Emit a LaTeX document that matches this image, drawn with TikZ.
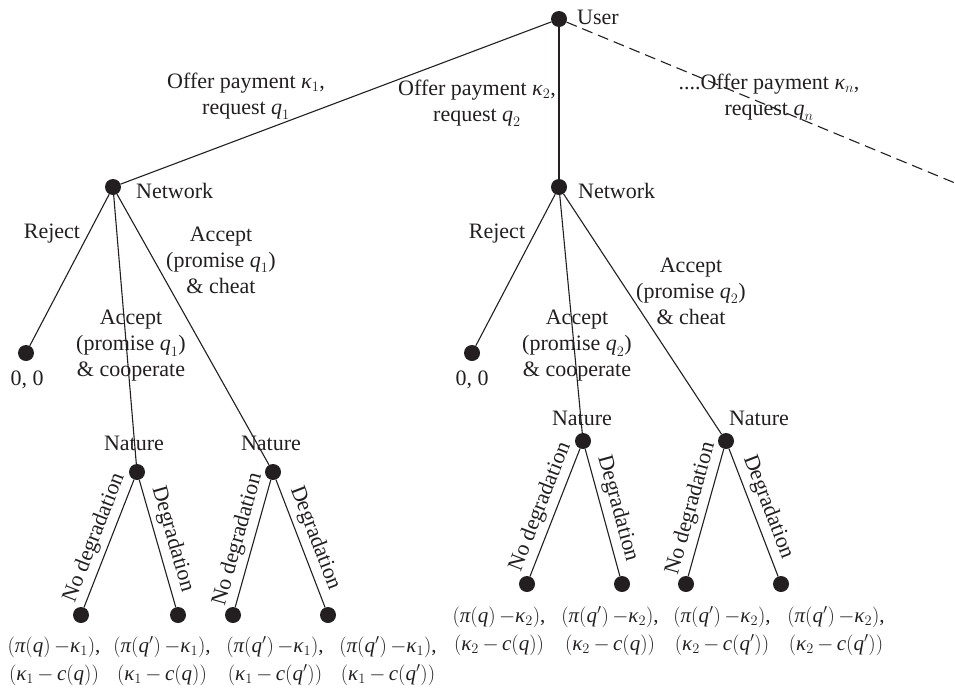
\documentclass[tikz,border=0pt]{standalone}
\usepackage{amsmath}
\usepackage{fontspec}
\setmainfont{Liberation Serif}
\definecolor{ink}{RGB}{35,31,32}
\newcommand{\myk}{\text{\itshape κ}}
\newcommand{\myq}{\text{\itshape q}}
\newcommand{\mypi}{\text{\itshape π}}
\newcommand{\myc}{\text{\itshape c}}
\begin{document}
\begin{tikzpicture}[x=1pt,y=-1pt,
  dot/.style={circle,fill=ink,inner sep=0pt,minimum size=16pt},
  lbl/.style={font=\fontsize{22}{26}\selectfont, text=ink, inner sep=0pt},
  blk/.style={lbl,align=center},
  pay/.style={font=\fontsize{21}{28}\selectfont, text=ink, inner sep=0pt, align=center},
  edge/.style={draw=ink,line width=1.1pt},
  elbl/.style={lbl,sloped,above,inner sep=5pt}
]
\useasboundingbox (0,0) rectangle (955,691);

% decision / chance / terminal points
\node[dot] (user) at (559,19) {};
\node[dot] (net1) at (113,187) {};
\node[dot] (net2) at (559,187) {};
\node[dot] (zeroA) at (26,353) {};
\node[dot] (zeroB) at (472,353) {};
\node[dot] (nat1) at (137,472) {};
\node[dot] (nat2) at (273,472) {};
\node[dot] (nat3) at (583,441) {};
\node[dot] (nat4) at (726,441) {};
\node[dot] (L1) at (81,615) {};
\node[dot] (L2) at (178,615) {};
\node[dot] (L3) at (233,615) {};
\node[dot] (L4) at (328,615) {};
\node[dot] (R1) at (527,584) {};
\node[dot] (R2) at (622,584) {};
\node[dot] (R3) at (686,584) {};
\node[dot] (R4) at (781,584) {};
\coordinate (dashend) at (955,183);

% connectors
\draw[edge] (user) -- (net1);
\draw[edge] (user) -- (net2);
\draw[edge,dash pattern=on 11pt off 6pt] (user) -- (dashend);
\draw[edge] (net1) -- (zeroA);
\draw[edge] (net1) -- (nat1);
\draw[edge] (net1) -- (nat2);
\draw[edge] (net2) -- (zeroB);
\draw[edge] (net2) -- (nat3);
\draw[edge] (net2) -- (nat4);
\draw[edge] (nat1) -- node[elbl] (nd1) {No degradation} (L1);
\draw[edge] (nat1) -- node[elbl] (dg1) {Degradation} (L2);
\draw[edge] (nat2) -- node[elbl] (nd2) {No degradation} (L3);
\draw[edge] (nat2) -- node[elbl] (dg2) {Degradation} (L4);
\draw[edge] (nat3) -- node[elbl] (nd3) {No degradation} (R1);
\draw[edge] (nat3) -- node[elbl] (dg3) {Degradation} (R2);
\draw[edge] (nat4) -- node[elbl] (nd4) {No degradation} (R3);
\draw[edge] (nat4) -- node[elbl] (dg4) {Degradation} (R4);

% player labels
\node[lbl,anchor=west] (userl) at (577,17) {User};
\node[lbl,anchor=west] (net1l) at (136,191) {Network};
\node[lbl,anchor=west] (net2l) at (578,191) {Network};
\node[lbl] (nat1l) at (134,443) {Nature};
\node[lbl] (nat2l) at (271,443) {Nature};
\node[lbl] (nat3l) at (582,418) {Nature};
\node[lbl] (nat4l) at (759,418) {Nature};

% action labels
\node[blk] (off1) at (246,96) {Offer payment $\myk_1$,\\request $\myq_1$};
\node[blk] (off2) at (477,103) {Offer payment $\myk_2$,\\request $\myq_2$};
\node[blk] (offn) at (769,97) {....Offer payment $\myk_n$,\\request $\myq_n$};
\node[lbl] (rej1) at (52,234) {Reject};
\node[lbl] (rej2) at (497,234) {Reject};
\node[blk] (coop1) at (131,346) {Accept\\(promise $\myq_1$)\\\& cooperate};
\node[blk] (cheat1) at (221,260) {Accept\\(promise $\myq_1$)\\\& cheat};
\node[blk] (coop2) at (577,346) {Accept\\(promise $\myq_2$)\\\& cooperate};
\node[blk] (cheat2) at (691,291) {Accept\\(promise $\myq_2$)\\\& cheat};

% payoffs
\node[lbl] (p0a) at (27,380) {0, 0};
\node[lbl] (p0b) at (472,380) {0, 0};
\node[pay] (pL1) at (54,661) {$(\mypi(\myq)\,{-}\myk_1)$,\\$(\myk_1\,{-}\,\myc(\myq))$};
\node[pay] (pL2) at (162,661) {$(\mypi(\myq')\,{-}\myk_1)$,\\$(\myk_1\,{-}\,\myc(\myq))$};
\node[pay] (pL3) at (275,661) {$(\mypi(\myq')\,{-}\myk_1)$,\\$(\myk_1\,{-}\,\myc(\myq'))$};
\node[pay] (pL4) at (388,661) {$(\mypi(\myq')\,{-}\myk_1)$,\\$(\myk_1\,{-}\,\myc(\myq'))$};
\node[pay] (pR1) at (499,631) {$(\mypi(\myq)\,{-}\myk_2)$,\\$(\myk_2\,{-}\,\myc(\myq))$};
\node[pay] (pR2) at (610,631) {$(\mypi(\myq')\,{-}\myk_2)$,\\$(\myk_2\,{-}\,\myc(\myq))$};
\node[pay] (pR3) at (722,631) {$(\mypi(\myq')\,{-}\myk_2)$,\\$(\myk_2\,{-}\,\myc(\myq'))$};
\node[pay] (pR4) at (836,631) {$(\mypi(\myq')\,{-}\myk_2)$,\\$(\myk_2\,{-}\,\myc(\myq'))$};
\end{tikzpicture}
\end{document}
